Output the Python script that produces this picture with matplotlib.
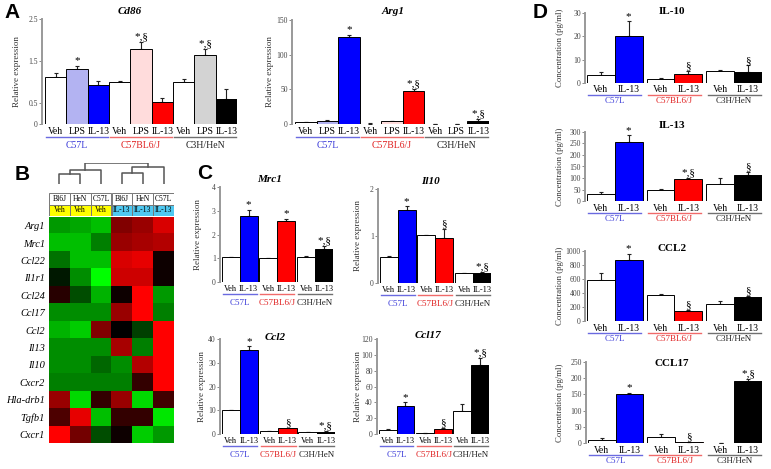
import numpy as np
import matplotlib
matplotlib.use('Agg')
import matplotlib.pyplot as plt
import matplotlib.transforms as mtransforms
from matplotlib.colors import LinearSegmentedColormap
from matplotlib.patches import Rectangle

W, H = 771, 469
plt.rcParams['font.family'] = 'Liberation Serif'

# ---- data ----
strains = ['C57L', 'C57BL6/J', 'C3H/HeN']
a_treat = ['Veh', 'LPS', 'IL-13']
cd_treat = ['Veh', 'IL-13']

cd86_vals = [1.12, 1.30, 0.92, 1.01, 1.78, 0.53, 1.01, 1.65, 0.60]
cd86_errs = [0.10, 0.08, 0.10, 0.02, 0.18, 0.10, 0.06, 0.13, 0.24]
cd86_marks = ['', '*', '', '', '*,§', '', '', '*,§', '']

arg1_vals = [2.4, 4.3, 126, 0.5, 3.8, 47.4, 0.3, 0.3, 5.0]
arg1_errs = [0.8, 0.8, 3, 0.3, 0.8, 3, 0.2, 0.2, 2]
arg1_marks = ['', '', '*', '', '', '*,§', '', '', '*,§']

mrc1_vals = [1.04, 2.76, 1.00, 2.55, 1.07, 1.39]
mrc1_errs = [0.02, 0.28, 0.02, 0.11, 0.02, 0.11]
mrc1_marks = ['', '*', '', '*', '', '*,§']

il10_vals = [0.55, 1.56, 1.02, 0.96, 0.21, 0.21]
il10_errs = [0.02, 0.07, 0.01, 0.18, 0.01, 0.02]
il10_marks = ['', '*', '', '§', '', '*,§']

ccl2_vals = [10.0, 35.2, 1.1, 2.4, 0.7, 0.85]
ccl2_errs = [0.3, 1.7, 0.1, 0.2, 0.1, 0.3]
ccl2_marks = ['', '*', '', '§', '', '*,§']

ccl17_vals = [4.6, 35.0, 0.8, 6.3, 29.5, 87.6]
ccl17_errs = [1.7, 5.0, 0.3, 1.3, 8.4, 8.4]
ccl17_marks = ['', '*', '', '§', '', '*,§']

d_il10_vals = [3.3, 20.0, 1.9, 3.9, 5.0, 4.6]
d_il10_errs = [1.4, 6.4, 0.4, 1.3, 0.4, 2.9]
d_il10_marks = ['', '*', '', '§', '', '§']

d_il13_vals = [32, 256, 46, 97, 72, 112]
d_il13_errs = [7, 29, 6, 3, 29, 14]
d_il13_marks = ['', '*', '', '*,§', '', '§']

d_ccl2_vals = [580, 867, 371, 150, 245, 340]
d_ccl2_errs = [105, 95, 10, 10, 35, 12]
d_ccl2_marks = ['', '*', '', '§', '', '§']

d_ccl17_vals = [8, 152, 18.5, 3, 1, 190]
d_ccl17_errs = [8, 3, 10, 1, 0.5, 7]
d_ccl17_marks = ['', '*', '', '§', '', '*,§']

heat_genes = ['Arg1', 'Mrc1', 'Ccl22', 'Il1r1', 'Ccl24', 'Ccl17', 'Ccl2',
              'Il13', 'Il10', 'Cxcr2', 'Hla-drb1', 'Tgfb1', 'Cxcr1']
heat_cols = ['Bl6J', 'HeN', 'C57L', 'Bl6J', 'HeN', 'C57L']
heat_treat = ['Veh', 'Veh', 'Veh', 'IL-13', 'IL-13', 'IL-13']
heat_vals = [
    [-0.60, -0.65, -0.75, 0.50, 0.60, 0.85],
    [-0.75, -0.75, -0.50, 0.60, 0.65, 0.70],
    [-0.45, -0.75, -0.75, 0.85, 0.90, 0.05],
    [-0.10, -0.55, -1.00, 0.80, 0.80, 0.05],
    [0.15, -0.30, -0.70, 0.05, 1.00, -0.60],
    [-0.55, -0.55, -0.55, 0.60, 1.00, -0.50],
    [-0.70, -0.80, 0.50, 0.00, -0.25, 1.00],
    [-0.55, -0.55, -0.55, 0.65, -0.50, 1.00],
    [-0.55, -0.55, -0.40, -0.55, 0.70, 1.00],
    [-0.50, -0.50, -0.50, -0.50, 0.20, 1.00],
    [0.60, -0.85, 0.20, 0.60, -0.85, 0.25],
    [0.30, 0.90, -0.75, 0.20, 0.20, -0.90],
    [1.00, 0.45, -0.30, 0.05, -0.80, -0.60],
]
# scipy-style merges: (left, right, height)
dendro_merges = [(0, 1, 0.50), (6, 2, 0.68), (3, 4, 0.55), (8, 5, 0.82), (7, 9, 1.0)]

# ---- styles ----
strain_text = ['#3a3ad8', '#e02020', '#202020']
strain_line = ['#6a6ae0', '#f06a6a', '#707070']
colors_a = ['white', '#b3b3f2', '#0000ff', 'white', '#ffdcdc', '#ff0000',
            'white', '#d3d3d3', '#000000']
colors_c = ['white', '#0000ff', 'white', '#ff0000', 'white', '#000000']


def px_axes(fig, left, top, right, bottom):
    return fig.add_axes([left / W, 1 - bottom / H, (right - left) / W, (bottom - top) / H])


def below(ax, dy):
    return mtransforms.offset_copy(ax.get_xaxis_transform(), fig=ax.figure, y=-dy, units='dots')


def bar_panel(ax, xs, vals, errs, colors, marks, ylim, yticks, yticklabels,
              ticks, n_per, offs, tick_fs, grp_fs, mark_fs=8):
    ax.bar(xs, vals, width=1.0, color=colors, edgecolor='black', linewidth=0.7, zorder=2)
    ax.errorbar(xs, vals, yerr=[np.zeros(len(vals)), errs], fmt='none',
                ecolor='#222222', elinewidth=0.8, capsize=1.5, capthick=0.8, zorder=1)
    for x, v, e, m in zip(xs, vals, errs, marks):
        if m:
            ax.annotate(m, (x, v + e), xytext=(0, 0.5), textcoords='offset points',
                        ha='center', va='bottom', fontsize=mark_fs)
    ax.set_ylim(*ylim)
    ax.set_yticks(yticks)
    ax.set_yticklabels(yticklabels, fontsize=5.5, color='#444444')
    ax.tick_params(axis='y', length=2, width=0.6, pad=1, color='#777777')
    ax.set_xticks([])
    for s in ['top', 'right', 'bottom']:
        ax.spines[s].set_visible(False)
    ax.spines['left'].set_color('#999999')
    ax.spines['left'].set_linewidth(1.4)
    t_off, l_off, g_off = offs
    for i, x in enumerate(xs):
        ax.text(x, 0, ticks[i % n_per], transform=below(ax, t_off), ha='center',
                va='center', fontsize=tick_fs)
    for g in range(3):
        gx = xs[g * n_per:(g + 1) * n_per]
        ax.plot([gx[0] - 0.45, gx[-1] + 0.45], [0, 0], transform=below(ax, l_off),
                color=strain_line[g], lw=1.0, clip_on=False)
        ax.text(np.mean(gx), 0, strains[g], transform=below(ax, g_off), ha='center',
                va='center', fontsize=grp_fs, color=strain_text[g])


fig = plt.figure(figsize=(W / 100, H / 100), dpi=100)

letter_kw = dict(fontsize=15, fontweight='bold', family='Liberation Sans', ha='center', va='center')
fig.text(12 / W, 1 - 12 / H, 'A', **letter_kw)
fig.text(22 / W, 1 - 175 / H, 'B', **letter_kw)
fig.text(205 / W, 1 - 173 / H, 'C', **letter_kw)
fig.text(540 / W, 1 - 13 / H, 'D', **letter_kw)


def label_y(x_px, top, bottom, text, fs=6.5):
    fig.text(x_px / W, 1 - (top + bottom) / 2 / H, text, rotation=90, ha='center',
             va='center', fontsize=fs, color='#333333')


def title(x_px, y_px, text, italic=True, fs=8):
    fig.text(x_px / W, 1 - y_px / H, text, ha='center', va='center', fontsize=fs,
             fontweight='bold', style='italic' if italic else 'normal')


# ---- panel A ----
xa = np.arange(9)
ax = px_axes(fig, 42, 19, 237, 124)
ax.set_xlim(-0.64, 8.5)
bar_panel(ax, xa, cd86_vals, cd86_errs, colors_a, cd86_marks, (0, 2.5),
          [0, 0.5, 1.5, 2.5], ['0', '0.5', '1.5', '2.5'], a_treat, 3, (8, 13, 22), 7, 7)
title(130, 12, 'Cd86')
label_y(17, 19, 124, 'Relative expression')

ax = px_axes(fig, 292, 20, 489, 124)
ax.set_xlim(-0.64, 8.5)
bar_panel(ax, xa, arg1_vals, arg1_errs, colors_a, arg1_marks, (0, 150),
          [0, 50, 100, 150], ['0', '50', '100', '150'], a_treat, 3, (8, 13, 22), 7, 7)
title(393, 12, 'Arg1')
label_y(270, 20, 124, 'Relative expression')

# ---- panel B ----
cmap = LinearSegmentedColormap.from_list('gbr', ['#00ff00', '#000000', '#ff0000'])
hx = px_axes(fig, 49, 217, 174, 443)
hx.imshow(np.array(heat_vals), cmap=cmap, vmin=-1, vmax=1, aspect='auto',
          interpolation='nearest')
hx.set_xticks([])
hx.set_yticks(range(len(heat_genes)))
hx.set_yticklabels(heat_genes, style='italic', fontsize=7.5)
hx.tick_params(axis='y', length=0, pad=3)
for s in hx.spines.values():
    s.set_visible(False)

hh = px_axes(fig, 49, 193, 174, 216)
hh.set_xlim(0, 6)
hh.set_ylim(0, 2)
hh.axis('off')
for i, (c, t) in enumerate(zip(heat_cols, heat_treat)):
    hh.add_patch(Rectangle((i, 1), 1, 1, fc='white', ec='#777777', lw=0.7))
    hh.text(i + 0.5, 1.5, c, ha='center', va='center', fontsize=5.5)
    fc = '#ffff00' if t == 'Veh' else '#4fc8f0'
    hh.add_patch(Rectangle((i, 0), 1, 1, fc=fc, ec='#777777', lw=0.7))
    hh.text(i + 0.5, 0.5, t, ha='center', va='center', fontsize=5.5)

dx = px_axes(fig, 49, 163, 174, 184)
dx.set_xlim(0, 6)
dx.set_ylim(0, 1.02)
dx.axis('off')
pos = {i: (i + 0.5, 0.0) for i in range(6)}
for k, (l, r, h) in enumerate(dendro_merges):
    (xl, hl), (xr, hr) = pos[l], pos[r]
    dx.plot([xl, xl, xr, xr], [hl, h, h, hr], color='#555555', lw=1.1)
    pos[6 + k] = ((xl + xr) / 2, h)

# ---- panel C ----
xc = np.array([0, 1, 2.1, 3.1, 4.2, 5.2])
c_panels = [
    ((220, 187, 333, 282), mrc1_vals, mrc1_errs, mrc1_marks, (0, 4), [0, 1, 2, 3, 4],
     'Mrc1', (270, 180), 198),
    ((378, 189, 491, 283), il10_vals, il10_errs, il10_marks, (0, 2), [0, 1, 2],
     'Il10', (430, 182), 358),
    ((220, 339, 335, 434), ccl2_vals, ccl2_errs, ccl2_marks, (0, 40), [0, 10, 20, 30, 40],
     'Ccl2', (275, 338), 202),
    ((377, 339, 489, 434), ccl17_vals, ccl17_errs, ccl17_marks, (0, 120),
     [0, 20, 40, 60, 80, 100, 120], 'Ccl17', (428, 336), 358),
]
for box, vals, errs, marks, ylim, yt, name, tpos, ylx in c_panels:
    ax = px_axes(fig, *box)
    ax.set_xlim(-0.6, 5.7)
    bar_panel(ax, xc, vals, errs, colors_c, marks, ylim, yt, [str(v) for v in yt],
              cd_treat, 2, (7, 12, 21), 6, 6.5)
    title(tpos[0], tpos[1], name)
    label_y(ylx, box[1], box[3], 'Relative expression')

# ---- panel D ----
xd = np.array([0, 1, 2.15, 3.15, 4.3, 5.3])
d_panels = [
    ((585, 13, 762, 83), d_il10_vals, d_il10_errs, d_il10_marks, (0, 30), [0, 10, 20, 30],
     'IL-10', 12),
    ((585, 132, 762, 201), d_il13_vals, d_il13_errs, d_il13_marks, (0, 300),
     [0, 50, 100, 150, 200, 250, 300], 'IL-13', 126),
    ((585, 251, 762, 321), d_ccl2_vals, d_ccl2_errs, d_ccl2_marks, (0, 1000),
     [0, 200, 400, 600, 800, 1000], 'CCL2', 248),
    ((586, 362, 762, 443), d_ccl17_vals, d_ccl17_errs, d_ccl17_marks, (0, 250),
     [0, 50, 100, 150, 200, 250], 'CCL17', 363),
]
for box, vals, errs, marks, ylim, yt, name, ty in d_panels:
    ax = px_axes(fig, *box)
    ax.set_xlim(-0.57, 5.8)
    bar_panel(ax, xd, vals, errs, colors_c, marks, ylim, yt, [str(v) for v in yt],
              cd_treat, 2, (7, 12, 18), 7, 6.5)
    title(672, ty, name, italic=False)
    label_y(560, box[1], box[3], 'Concentration (pg/ml)', fs=6.3)

fig.savefig('out.png', dpi=100)
